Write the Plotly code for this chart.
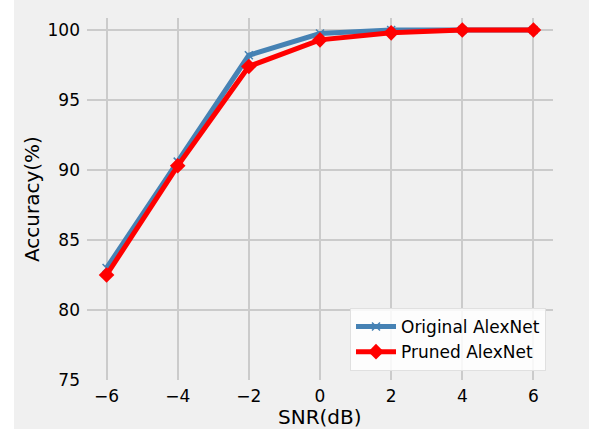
import plotly.graph_objects as go

snr = [-6, -4, -2, 0, 2, 4, 6]
original = [83.0, 90.6, 98.2, 99.75, 100.0, 100.0, 100.0]
pruned = [82.5, 90.3, 97.4, 99.3, 99.8, 100.0, 100.0]
xticks = [-6, -4, -2, 0, 2, 4, 6]
xticklabels = ["\u22126", "\u22124", "\u22122", "0", "2", "4", "6"]
yticks = [75, 80, 85, 90, 95, 100]

W, H = 589, 429
L, R, T, B = 87, 36, 18, 49
pw = W - L - R

fig = go.Figure()
fig.add_trace(go.Scatter(
    x=snr, y=original, mode="lines+markers", name="Original AlexNet",
    line=dict(color="#4682b4", width=5),
    marker=dict(symbol="x-thin", size=8, line=dict(color="#4682b4", width=1.5)),
))
fig.add_trace(go.Scatter(
    x=snr, y=pruned, mode="lines+markers", name="Pruned AlexNet",
    line=dict(color="#ff0000", width=5),
    marker=dict(symbol="diamond", size=12, color="#ff0000"),
))

font = "DejaVu Sans, sans-serif"
fig.update_layout(
    width=W, height=H,
    margin=dict(l=L, r=R, t=T, b=B, pad=0),
    paper_bgcolor="#f0f0f0", plot_bgcolor="#f0f0f0",
    font=dict(family=font, size=17, color="#000000"),
    showlegend=True,
    legend=dict(
        x=(546 - L) / pw, y=(H - B - 371) / (H - T - B), xanchor="right", yanchor="bottom",
        bgcolor="rgba(255,255,255,0.85)", bordercolor="#e0e0e0", borderwidth=1,
        font=dict(family=font, size=17, color="#000000"),
        itemwidth=40, tracegroupgap=0,
    ),
    xaxis=dict(
        range=[-6.55, 6.55], tickvals=xticks, ticktext=xticklabels,
        showgrid=True, gridcolor="#cbcbcb", gridwidth=2, zeroline=False,
        showline=False, ticks="", ticklabelstandoff=4,
        tickfont=dict(family=font, size=17),
    ),
    yaxis=dict(
        range=[75, 100.86], tickvals=yticks,
        showgrid=True, gridcolor="#cbcbcb", gridwidth=2, zeroline=False,
        showline=False, ticks="", ticklabelstandoff=6,
        tickfont=dict(family=font, size=17),
    ),
    shapes=[dict(type="rect", xref="paper", yref="paper",
                 x0=(0 - L) / pw, x1=(14 - L) / pw, y0=-1, y1=2,
                 fillcolor="#ffffff", line=dict(width=0), layer="below")],
    annotations=[
        dict(text="SNR(dB)", xref="paper", yref="paper", x=0.5, y=-(417 - (H - B)) / (H - T - B),
             xanchor="center", yanchor="middle", showarrow=False,
             font=dict(family=font, size=20)),
        dict(text="Accuracy(%)", xref="paper", yref="paper", x=(32 - L) / pw, y=0.5,
             xanchor="center", yanchor="middle", showarrow=False, textangle=-90,
             font=dict(family=font, size=20)),
    ],
)

fig.write_html("out.html", config={"displayModeBar": False},
               post_script="document.body.style.margin='0';document.body.style.padding='0';")
